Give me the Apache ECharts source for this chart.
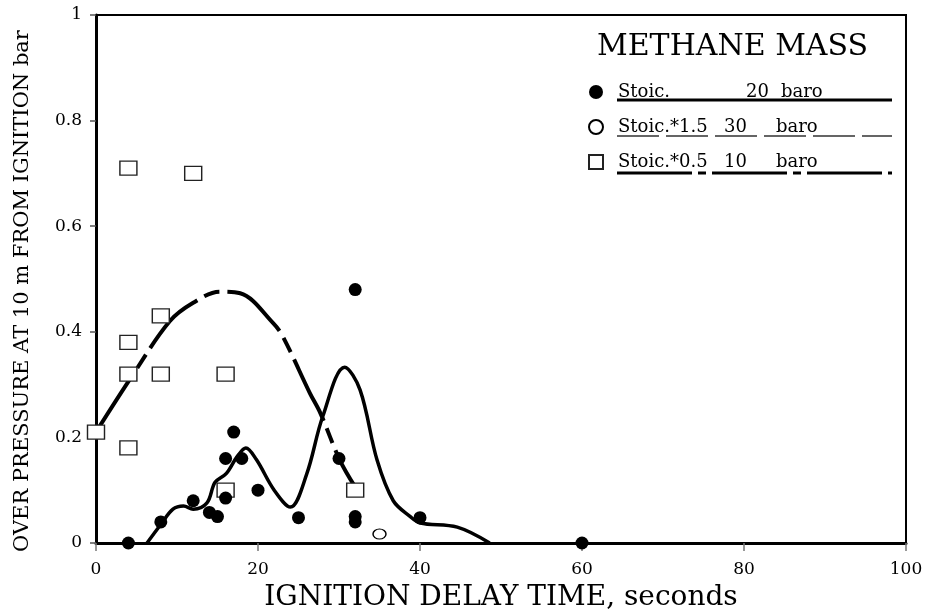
<!DOCTYPE html>
<html>
<head>
<meta charset="utf-8">
<script src="https://cdn.jsdelivr.net/npm/echarts@6/dist/echarts.min.js"></script>
<style>
html,body{margin:0;padding:0;background:#fff;}
#chart{width:926px;height:610px;}
</style>
</head>
<body>
<div id="chart"></div>
<script>
// Data: [ignition delay time (s), over pressure (bar)]
const nameStoic = 'Stoic. 20 baro';
const nameStoic15 = 'Stoic.*1.5 30 baro';
const nameStoic05 = 'Stoic.*0.5 10 baro';

const stoic20Points = [[4,0],[8,0.04],[12,0.08],[14,0.058],[15,0.05],[16,0.085],[16,0.16],[17,0.21],[18,0.16],[20,0.10],[25,0.048],[30,0.16],[32,0.48],[32,0.05],[32,0.04],[40,0.048],[60,0]];
const stoic15Points = [[35,0.017]];
const stoic05Points = [[0,0.21],[4,0.71],[12,0.70],[4,0.38],[4,0.32],[8,0.43],[8,0.32],[16,0.32],[4,0.18],[16,0.10],[32,0.10]];

// Hand-drawn trend curves
const stoic20Curve = [[6.3,0],[8,0.035],[9.5,0.064],[10.8,0.07],[12,0.064],[13.7,0.076],[14.7,0.115],[16.1,0.132],[17.4,0.163],[18.5,0.18],[19.8,0.158],[22,0.1],[24,0.068],[26,0.13],[28,0.24],[30.7,0.333],[32.6,0.29],[34.7,0.157],[36.7,0.08],[38.8,0.05],[40,0.038],[44.6,0.03],[48.6,0]];
const stoic05Curve = [[0,0.21],[4.4,0.315],[9.1,0.42],[12,0.455],[15.3,0.476],[17.8,0.473],[21.9,0.416],[23.1,0.39],[26.4,0.284],[27.7,0.246],[30.1,0.157],[32,0.106]];

const xTicks = [0,20,40,60,80,100];
const yTicks = [0,0.2,0.4,0.6,0.8,1];

// legend text columns: [first column, number, unit]
const legendText = {};
legendText[nameStoic] = ['Stoic.', '20', 'baro'];
legendText[nameStoic15] = ['Stoic.*1.5', '30', 'baro'];
legendText[nameStoic05] = ['Stoic.*0.5', '10', 'baro'];

const FONT = 'DejaVu Serif';
const LFS = 18;

const chart = echarts.init(document.getElementById('chart'), null, {renderer: 'canvas'});
const option = {
  animation: false,
  backgroundColor: '#fff',
  title: {
    text: 'METHANE MASS',
    left: 592, top: 27,
    textStyle: {fontFamily: FONT, fontSize: 30, fontWeight: 'normal', color: '#000'}
  },
  legend: {
    orient: 'vertical',
    left: 583, top: 77,
    itemWidth: 14, itemHeight: 14,
    itemGap: 15,
    data: [nameStoic, nameStoic15, nameStoic05],
    formatter: function (n) {
      const t = legendText[n];
      const k = n === nameStoic ? '1' : (n === nameStoic15 ? '2' : '3');
      return '{s|}{a' + k + '|' + t[0] + '}{n' + k + '|' + t[1] + '}{b|' + t[2] + '}';
    },
    textStyle: {
      fontFamily: FONT, fontSize: LFS, color: '#000', lineHeight: 20,
      rich: {
        s: {width: 10},
        a1: {width: 128, fontFamily: FONT, fontSize: LFS},
        a2: {width: 106, fontFamily: FONT, fontSize: LFS},
        a3: {width: 106, fontFamily: FONT, fontSize: LFS},
        n1: {width: 35, fontFamily: FONT, fontSize: LFS},
        n2: {width: 52, fontFamily: FONT, fontSize: LFS},
        n3: {width: 52, fontFamily: FONT, fontSize: LFS},
        b: {fontFamily: FONT, fontSize: LFS}
      }
    }
  },
  graphic: [
    {type: 'line', shape: {x1: 617, y1: 100, x2: 892, y2: 100}, style: {stroke: '#000', lineWidth: 3}},
    {type: 'line', shape: {x1: 617, y1: 136, x2: 892, y2: 136}, style: {stroke: '#333', lineWidth: 1.5, lineDash: [42, 7]}},
    {type: 'line', shape: {x1: 617, y1: 173, x2: 892, y2: 173}, style: {stroke: '#000', lineWidth: 3, lineDash: [75, 6, 8, 6]}}
  ],
  grid: {
    left: 96, right: 20, top: 15, bottom: 67,
    outerBoundsMode: 'none', containLabel: false,
    show: true, borderColor: '#000', borderWidth: 2, backgroundColor: 'transparent'
  },
  xAxis: {
    type: 'value', min: 0, max: 100, interval: 20,
    name: 'IGNITION DELAY TIME, seconds',
    nameLocation: 'middle', nameGap: 41,
    nameTextStyle: {fontFamily: FONT, fontSize: 28, color: '#000'},
    splitLine: {show: false},
    axisLine: {show: true, lineStyle: {color: '#000', width: 3}},
    axisTick: {show: true, length: 8, lineStyle: {color: '#777', width: 1.5}},
    axisLabel: {
      margin: 18, fontFamily: FONT, fontSize: 17, color: '#000',
      formatter: function (v) { return xTicks.indexOf(v) >= 0 ? String(v) : ''; }
    }
  },
  yAxis: {
    type: 'value', min: 0, max: 1, interval: 0.2,
    name: 'OVER PRESSURE AT 10 m FROM IGNITION bar',
    nameLocation: 'middle', nameRotate: 90, nameGap: 63,
    nameTextStyle: {fontFamily: FONT, fontSize: 21, color: '#000', padding: [0, 24, 0, 0]},
    splitLine: {show: false},
    axisLine: {show: true, lineStyle: {color: '#000', width: 3}},
    axisTick: {show: true, length: 6, lineStyle: {color: '#555', width: 1.5}},
    axisLabel: {
      margin: 14, fontFamily: FONT, fontSize: 17, color: '#000',
      formatter: function (v) {
        const t = yTicks.find(function (k) { return Math.abs(k - v) < 1e-9; });
        return t === undefined ? '' : String(t);
      }
    }
  },
  series: [
    {
      name: 'curve20', type: 'line', data: stoic20Curve, smooth: 0.35,
      showSymbol: false, symbol: 'none', z: 2,
      lineStyle: {color: '#000', width: 3.5}
    },
    {
      name: 'curve05', type: 'line', data: stoic05Curve, smooth: 0.35,
      showSymbol: false, symbol: 'none', z: 2,
      lineStyle: {color: '#000', width: 4, type: [68, 8, 16, 8]}
    },
    {
      name: nameStoic, type: 'scatter', data: stoic20Points,
      symbol: 'circle', symbolSize: 13, z: 4,
      itemStyle: {color: '#000', borderColor: '#000', borderWidth: 0, opacity: 1}
    },
    {
      name: nameStoic15, type: 'scatter', data: stoic15Points,
      symbol: 'circle', symbolSize: [13, 10], z: 4,
      itemStyle: {color: '#fff', borderColor: '#000', borderWidth: 1.3, opacity: 1}
    },
    {
      name: nameStoic05, type: 'scatter', data: stoic05Points,
      symbol: 'rect', symbolSize: [17, 14], z: 3,
      itemStyle: {color: '#fff', borderColor: '#222', borderWidth: 1.3, opacity: 1}
    }
  ]
};
chart.setOption(option);
</script>
</body>
</html>
